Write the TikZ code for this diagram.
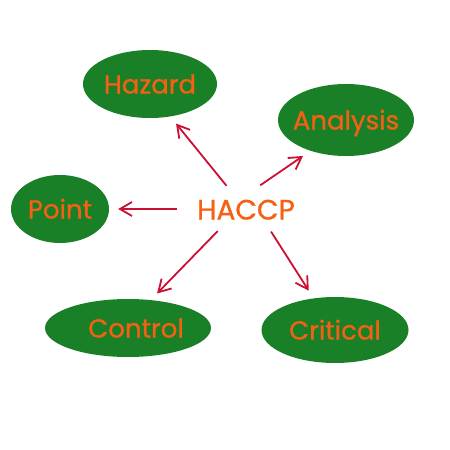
\documentclass[tikz,border=0pt]{standalone}
\usepackage{fontspec}
\setmainfont{Poppins}[FakeBold=0.8]
\usetikzlibrary{shapes.geometric,arrows.meta}
\definecolor{leafgreen}{RGB}{26,128,40}
\definecolor{markerorange}{RGB}{244,96,20}
\definecolor{arrowred}{RGB}{204,16,52}
\newcommand{\blobtext}[1]{\makebox[0pt]{#1}}
\begin{document}
\begin{tikzpicture}[x=1pt,y=-1pt,
        blob/.style={ellipse, fill=leafgreen, inner sep=0pt, text=markerorange, text height=19pt, text depth=0pt, font=\fontsize{26}{30}\selectfont},
        arr/.style={-{Straight Barb[length=12pt,width=14pt]}, line width=1.8pt, color=arrowred, shorten >=9pt}]
    \useasboundingbox (0,0) rectangle (450,450);
        %% centre word
        \node[ellipse, inner sep=0pt, minimum width=138pt, minimum height=48pt, text=markerorange, text height=21pt, text depth=0pt, font=\fontsize{28}{32}\selectfont] (haccp) at (246,209) {\blobtext{HACCP}};
        %% outer ellipses
        \node[blob, minimum width=134pt, minimum height=68pt] (hazard) at (150,84) {\blobtext{Hazard}};
        \node[blob, minimum width=136pt, minimum height=72pt] (analysis) at (346,120) {\blobtext{Analysis}};
        \node[blob, minimum width=98pt, minimum height=68pt] (point) at (60,209) {\blobtext{Point}};
        \node[blob, minimum width=166pt, minimum height=58pt] (control) at (128,328) {\blobtext{\hspace*{16pt}Control}};
        \node[blob, minimum width=147pt, minimum height=66pt] (critical) at (335,330) {\blobtext{Critical}};
        %% arrows
        \draw[arr] (haccp.130) -- (hazard.302);
        \draw[arr] (haccp.59) -- (analysis.221);
        \draw[arr] (haccp.180) -- (point.0);
        \draw[arr] (haccp.218) -- (control.51);
        \draw[arr] (haccp.318) -- (critical.124);
\end{tikzpicture}
\end{document}
